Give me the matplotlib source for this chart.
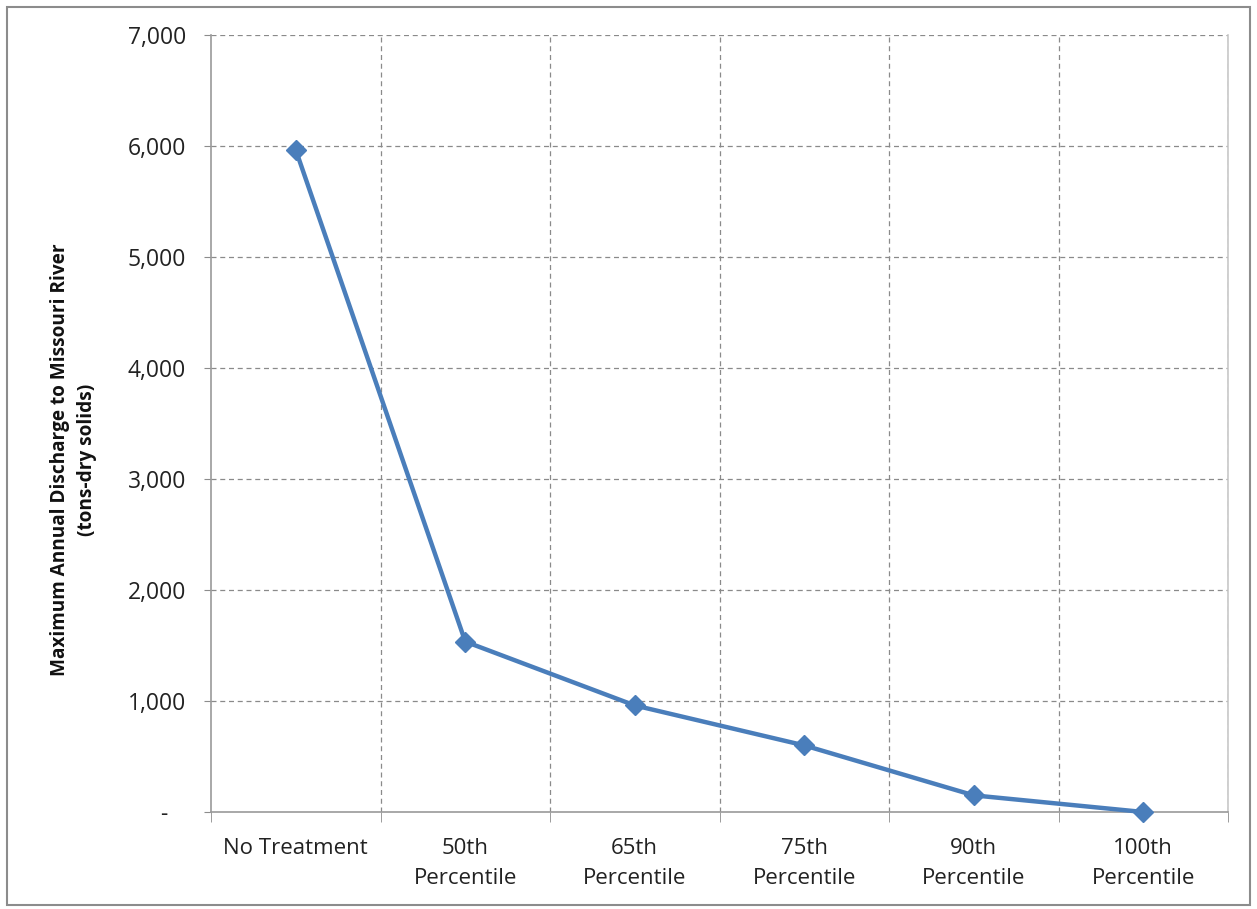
import matplotlib
matplotlib.use("Agg")
import matplotlib.pyplot as plt
from matplotlib.patches import Rectangle

categories = ["No Treatment", "50th\nPercentile", "65th\nPercentile",
              "75th\nPercentile", "90th\nPercentile", "100th\nPercentile"]
values = [5965, 1535, 960, 600, 150, 0]
yticks = [0, 1000, 2000, 3000, 4000, 5000, 6000, 7000]
ytick_labels = ["-   ", "1,000", "2,000", "3,000", "4,000", "5,000", "6,000", "7,000"]

plt.rcParams['font.family'] = ['Open Sans', 'DejaVu Sans']

fig = plt.figure(figsize=(12.57, 9.09), dpi=100)
ax = fig.add_axes([211/1257, 1-812/909, (1228-211)/1257, (812-35)/909])

# figure border
fig.patches.append(Rectangle((7/1257, 4/909), (1250-7)/1257, (902-4)/909,
                             transform=fig.transFigure, fill=False,
                             edgecolor="#8c8c8c", linewidth=1.5))

x = [i + 0.5 for i in range(len(categories))]
ax.plot(x, values, color="#4A7EBB", linewidth=3.2, marker="D", markersize=10,
        markerfacecolor="#4A7EBB", markeredgecolor="#4A7EBB", zorder=5, clip_on=False)

ax.set_xlim(0, len(categories))
ax.set_ylim(0, 7000)

ax.set_yticks(yticks)
ax.set_yticklabels(ytick_labels)
ax.set_xticks(x)
ax.set_xticklabels(categories, linespacing=1.55)
ax.set_xticks(range(len(categories) + 1), minor=True)

ax.tick_params(axis='x', which='major', length=0, pad=19, labelsize=16, colors="#222222")
ax.tick_params(axis='x', which='minor', length=7, color="#8c8c8c", direction='out')
ax.tick_params(axis='y', which='major', length=5, color="#8c8c8c", direction='out',
               pad=13, labelsize=16.5, labelcolor="#222222")

for v in yticks[1:]:
    ax.axhline(v, color="#8a8a8a", linestyle=(0, (4, 3)), linewidth=0.9, zorder=1)
for i in range(1, len(categories) + 1):
    ax.axvline(i, color="#8a8a8a", linestyle=(0, (4, 3)), linewidth=0.9, zorder=1)

for side in ["left", "bottom", "right"]:
    ax.spines[side].set_color("#9a9a9a")
    ax.spines[side].set_linewidth(1.2)
ax.spines["right"].set_color("#c8c8c8")
ax.spines["top"].set_visible(False)

ax.set_ylabel("Maximum Annual Discharge to Missouri River\n(tons-dry solids)",
              fontsize=13.7, fontweight='bold', color="#111111",
              linespacing=1.45)
ax.yaxis.set_label_coords(-0.112, 0.453)

fig.savefig("out.png", dpi=100, facecolor="white")
